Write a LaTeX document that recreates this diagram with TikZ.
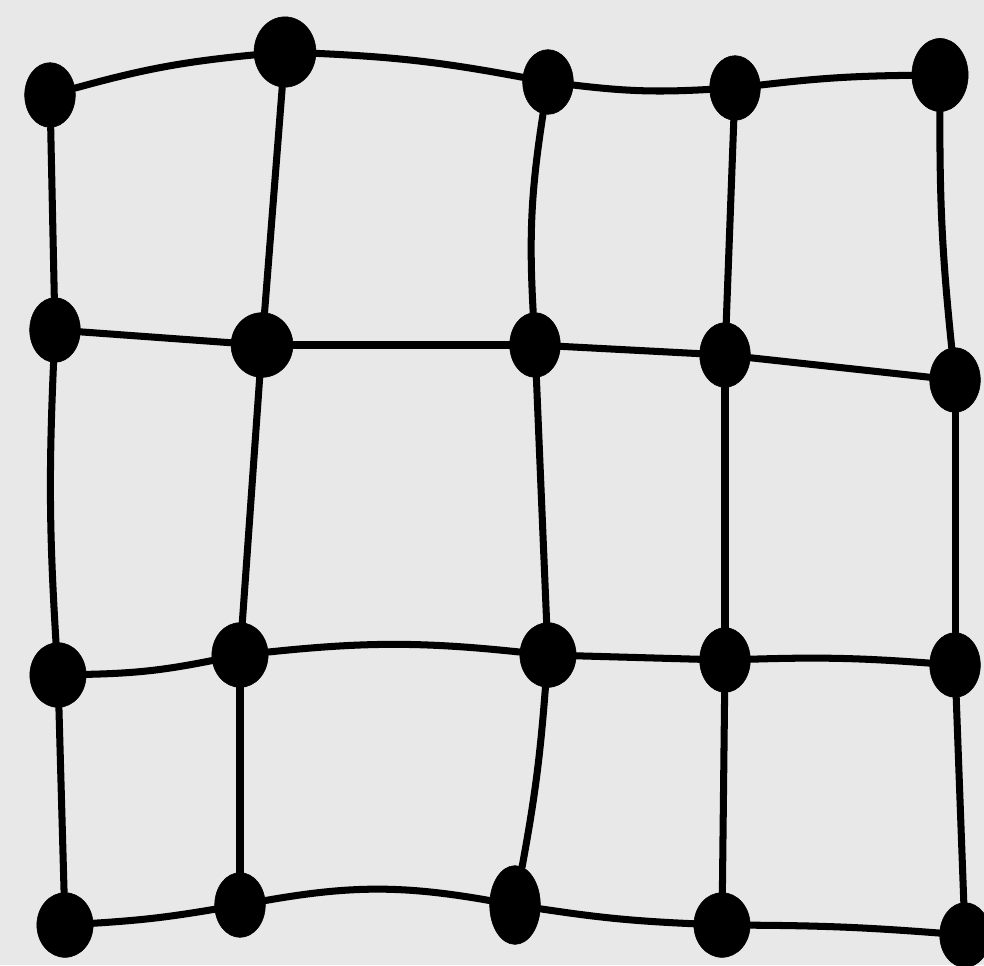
\documentclass[tikz,border=0pt]{standalone}
\usetikzlibrary{shapes.geometric}
\begin{document}
\begin{tikzpicture}[x=0.025cm,y=-0.025cm,
  dot/.style={ellipse,fill=black,draw=black,inner sep=0pt,minimum width=36,minimum height=46},
  edge/.style={line width=5pt,line cap=round,black}]
\fill[gray!18] (0,0) rectangle (984,965);
\useasboundingbox (0,0) rectangle (984,965);
% row 1
\node[dot] (a1) at (50,95) {};
\node[dot,minimum width=44,minimum height=50] (a2) at (285,52) {};
\node[dot] (a3) at (548,82) {};
\node[dot] (a4) at (735,88) {};
\node[dot,minimum width=40,minimum height=52] (a5) at (940,75) {};
% row 2
\node[dot] (b1) at (55,330) {};
\node[dot,minimum width=44] (b2) at (262,345) {};
\node[dot] (b3) at (535,345) {};
\node[dot] (b4) at (725,355) {};
\node[dot] (b5) at (955,380) {};
% row 3
\node[dot,minimum width=40] (c1) at (58,675) {};
\node[dot,minimum width=40] (c2) at (240,655) {};
\node[dot,minimum width=40] (c3) at (548,655) {};
\node[dot] (c4) at (725,660) {};
\node[dot] (c5) at (955,665) {};
% row 4
\node[dot,minimum width=40] (d1) at (65,925) {};
\node[dot] (d2) at (240,905) {};
\node[dot,minimum height=56] (d3) at (515,905) {};
\node[dot,minimum width=40] (d4) at (722,925) {};
\node[dot] (d5) at (965,935) {};
% horizontal
\draw[edge] (a1) to[bend left=5] (a2);
\draw[edge] (a2) to[bend left=4] (a3);
\draw[edge] (a3) to[bend right=5] (a4);
\draw[edge] (a4) to[bend left=3] (a5);
\draw[edge] (b1) -- (b2);
\draw[edge] (b2) -- (b3);
\draw[edge] (b3) -- (b4);
\draw[edge] (b4) -- (b5);
\draw[edge] (c1) to[bend right=5] (c2);
\draw[edge] (c2) to[bend left=6] (c3);
\draw[edge] (c3) -- (c4);
\draw[edge] (c4) to[bend left=3] (c5);
\draw[edge] (d1) to[bend right=3] (d2);
\draw[edge] (d2) to[bend left=10] (d3);
\draw[edge] (d3) to[bend right=3] (d4);
\draw[edge] (d4) to[bend left=2] (d5);
% vertical
\draw[edge] (a1) -- (b1);
\draw[edge] (b1) to[bend right=3] (c1);
\draw[edge] (c1) -- (d1);
\draw[edge] (a2) -- (b2);
\draw[edge] (b2) -- (c2);
\draw[edge] (c2) -- (d2);
\draw[edge] (a3) to[bend right=6] (b3);
\draw[edge] (b3) -- (c3);
\draw[edge] (c3) to[bend left=3] (d3);
\draw[edge] (a4) -- (b4);
\draw[edge] (b4) -- (c4);
\draw[edge] (c4) -- (d4);
\draw[edge] (a5) to[bend right=3] (b5);
\draw[edge] (b5) -- (c5);
\draw[edge] (c5) -- (d5);
\end{tikzpicture}
\end{document}
